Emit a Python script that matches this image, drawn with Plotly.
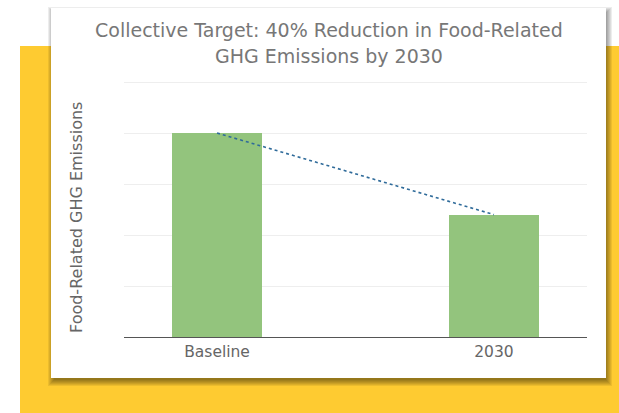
import plotly.graph_objects as go

# ---- data ----
categories = ["Baseline", "2030"]
emissions = [100, 60]          # index, baseline = 100
title_lines = ["Collective Target: 40% Reduction in Food-Related",
               "GHG Emissions by 2030"]
y_title = "Food-Related GHG Emissions"

W, H = 619, 413
FONT = "DejaVu Sans"

def px(x):
    return x / W

def py(y):
    return 1 - y / H

fig = go.Figure()

fig.add_trace(go.Bar(
    x=categories, y=emissions,
    marker=dict(color="#93c47d", line=dict(width=0)),
    width=0.325, showlegend=False, hoverinfo="skip",
))
fig.add_trace(go.Scatter(
    x=categories, y=emissions, mode="lines",
    line=dict(color="#2f6b9a", width=1.6, dash="dot"),
    showlegend=False, hoverinfo="skip",
))

shapes = []
# yellow backdrop
shapes.append(dict(type="rect", xref="paper", yref="paper", layer="below",
                   x0=px(20), x1=px(W + 5), y0=py(H + 5), y1=py(46),
                   fillcolor="#fecb31", line=dict(width=0)))
# soft shadow (stacked translucent rects)
cx0, cy0, cx1, cy1 = 51, 8, 606, 378
for i in range(7):
    e = i
    shapes.append(dict(type="rect", xref="paper", yref="paper", layer="below",
                       x0=px(cx0 + 3 - e), x1=px(cx1 + e),
                       y0=py(cy1 + 2 + e), y1=py(cy0 + 5 - e),
                       fillcolor="rgba(0,0,0,0.07)", line=dict(width=0)))
# white card
shapes.append(dict(type="rect", xref="paper", yref="paper", layer="below",
                   x0=px(cx0), x1=px(cx1), y0=py(cy1), y1=py(cy0),
                   fillcolor="#ffffff", line=dict(width=0)))

annotations = [
    dict(text=title_lines[0], xref="paper", yref="paper", x=px(329), y=py(43),
         xanchor="center", yanchor="bottom", showarrow=False,
         font=dict(family=FONT, size=19, color="#777777")),
    dict(text=title_lines[1], xref="paper", yref="paper", x=px(329), y=py(43),
         xanchor="center", yanchor="top", showarrow=False,
         font=dict(family=FONT, size=19, color="#777777")),
    dict(text=y_title, textangle=-90, xref="paper", yref="paper",
         x=px(77), y=py(218), xanchor="center", yanchor="middle",
         showarrow=False, font=dict(family=FONT, size=16, color="#666666")),
]

fig.update_layout(
    width=W, height=H,
    margin=dict(l=0, r=0, t=0, b=0),
    paper_bgcolor="#ffffff",
    plot_bgcolor="rgba(0,0,0,0)",
    font=dict(family=FONT, color="#666666"),
    shapes=shapes,
    annotations=annotations,
    xaxis=dict(domain=[px(124), px(587)], type="category",
               range=[-0.336, 1.336], showline=True, linecolor="#555555",
               linewidth=1, showgrid=False, ticks="",
               tickfont=dict(family=FONT, size=15.5, color="#666666")),
    yaxis=dict(domain=[py(337), py(80)], range=[0, 126], dtick=25,
               showticklabels=False, showgrid=True, gridcolor="#eeeeee",
               gridwidth=1, zeroline=False, ticks=""),
    bargap=0,
)

fig.write_html("out.html")
